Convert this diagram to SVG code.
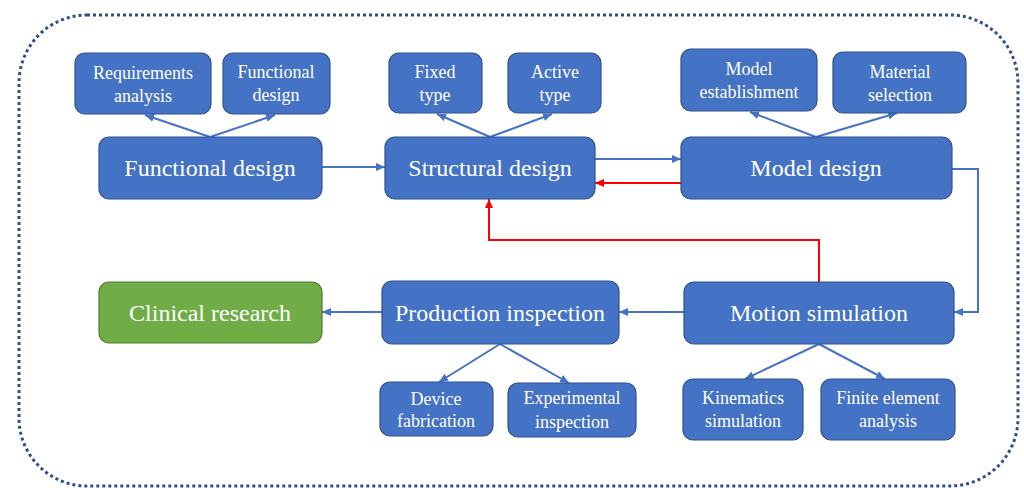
<svg xmlns="http://www.w3.org/2000/svg" width="1024" height="488" viewBox="0 0 1024 488">
<style>
.n{fill:#4472C4;stroke:#2F528F;stroke-width:1.2}
.g{fill:#70AD47;stroke:#507E32;stroke-width:1.2}
text{font-family:'Liberation Serif','Times New Roman',serif;fill:#fff;text-anchor:middle}
.big{font-size:24px}
.sm{font-size:18px}
.c{fill:none;stroke:#4472C4;stroke-width:2}
.r{fill:none;stroke:#FF0000;stroke-width:2}
</style>
<defs>
<marker id="ab" markerUnits="userSpaceOnUse" markerWidth="10" markerHeight="10" viewBox="0 0 10 10" refX="9" refY="5" orient="auto"><path d="M0,1 L9,5 L0,9 Z" fill="#4472C4"/></marker>
<marker id="ar" markerUnits="userSpaceOnUse" markerWidth="10" markerHeight="10" viewBox="0 0 10 10" refX="9" refY="5" orient="auto"><path d="M0,1 L9,5 L0,9 Z" fill="#FF0000"/></marker>
</defs>
<rect x="19" y="15" width="999" height="471" rx="68" fill="none" stroke="#2E4F8C" stroke-width="3" stroke-dasharray="3 3"/>
<g id="connectors">
<path class="c" d="M210,137 L145,115" marker-end="url(#ab)"/>
<path class="c" d="M210,137 L275,115" marker-end="url(#ab)"/>
<path class="c" d="M490,137 L437,114" marker-end="url(#ab)"/>
<path class="c" d="M490,137 L552,114" marker-end="url(#ab)"/>
<path class="c" d="M816,137 L750,112" marker-end="url(#ab)"/>
<path class="c" d="M816,137 L897,113" marker-end="url(#ab)"/>
<path class="c" d="M322,167 L385,167" marker-end="url(#ab)"/>
<path class="c" d="M595,159 L681,159" marker-end="url(#ab)"/>
<path class="r" d="M681,183 L595,183" marker-end="url(#ar)"/>
<path class="c" d="M952,169 L978,169 L978,312 L954,312" marker-end="url(#ab)"/>
<path class="c" d="M684,312 L619,312" marker-end="url(#ab)"/>
<path class="c" d="M382,312 L322,312" marker-end="url(#ab)"/>
<path class="r" d="M819,282 L819,240 L489,240 L489,199" marker-end="url(#ar)"/>
<path class="c" d="M500,344 L439,382" marker-end="url(#ab)"/>
<path class="c" d="M500,344 L569,383" marker-end="url(#ab)"/>
<path class="c" d="M819,344 L745,379" marker-end="url(#ab)"/>
<path class="c" d="M819,344 L885,379" marker-end="url(#ab)"/>
</g>
<g id="req"><rect class="n" x="75" y="53" width="136" height="61" rx="10"/><text class="sm" x="143" y="79">Requirements</text><text class="sm" x="143" y="102">analysis</text></g>
<g id="fd-small"><rect class="n" x="223" y="53" width="107" height="61" rx="10"/><text class="sm" x="276" y="78">Functional</text><text class="sm" x="276" y="101">design</text></g>
<g id="fixed"><rect class="n" x="389" y="53" width="93" height="60" rx="10"/><text class="sm" x="435" y="78">Fixed</text><text class="sm" x="435" y="101">type</text></g>
<g id="active"><rect class="n" x="508" y="53" width="93" height="60" rx="10"/><text class="sm" x="555" y="78">Active</text><text class="sm" x="555" y="101">type</text></g>
<g id="model-est"><rect class="n" x="681" y="49" width="136" height="62" rx="10"/><text class="sm" x="749" y="75">Model</text><text class="sm" x="749" y="98">establishment</text></g>
<g id="material"><rect class="n" x="833" y="52" width="133" height="61" rx="10"/><text class="sm" x="900" y="78">Material</text><text class="sm" x="900" y="101">selection</text></g>
<g id="functional"><rect class="n" x="99" y="137" width="223" height="62" rx="10"/><text class="big" x="210" y="176">Functional design</text></g>
<g id="structural"><rect class="n" x="385" y="137" width="210" height="62" rx="10"/><text class="big" x="490" y="176">Structural design</text></g>
<g id="model"><rect class="n" x="681" y="137" width="271" height="62" rx="10"/><text class="big" x="816" y="176">Model design</text></g>
<g id="clinical"><rect class="g" x="99" y="282" width="223" height="61" rx="10"/><text class="big" x="210" y="321">Clinical research</text></g>
<g id="production"><rect class="n" x="382" y="281" width="237" height="63" rx="10"/><text class="big" x="500" y="321">Production inspection</text></g>
<g id="motion"><rect class="n" x="684" y="282" width="270" height="62" rx="10"/><text class="big" x="819" y="321">Motion simulation</text></g>
<g id="device"><rect class="n" x="380" y="382" width="113" height="54" rx="10"/><text class="sm" x="436" y="405">Device</text><text class="sm" x="436" y="427">fabrication</text></g>
<g id="experimental"><rect class="n" x="508" y="383" width="128" height="54" rx="10"/><text class="sm" x="572" y="404">Experimental</text><text class="sm" x="572" y="428">inspection</text></g>
<g id="kinematics"><rect class="n" x="683" y="379" width="120" height="61" rx="10"/><text class="sm" x="743" y="404">Kinematics</text><text class="sm" x="743" y="427">simulation</text></g>
<g id="fea"><rect class="n" x="821" y="379" width="134" height="61" rx="10"/><text class="sm" x="888" y="404">Finite element</text><text class="sm" x="888" y="427">analysis</text></g>
</svg>
